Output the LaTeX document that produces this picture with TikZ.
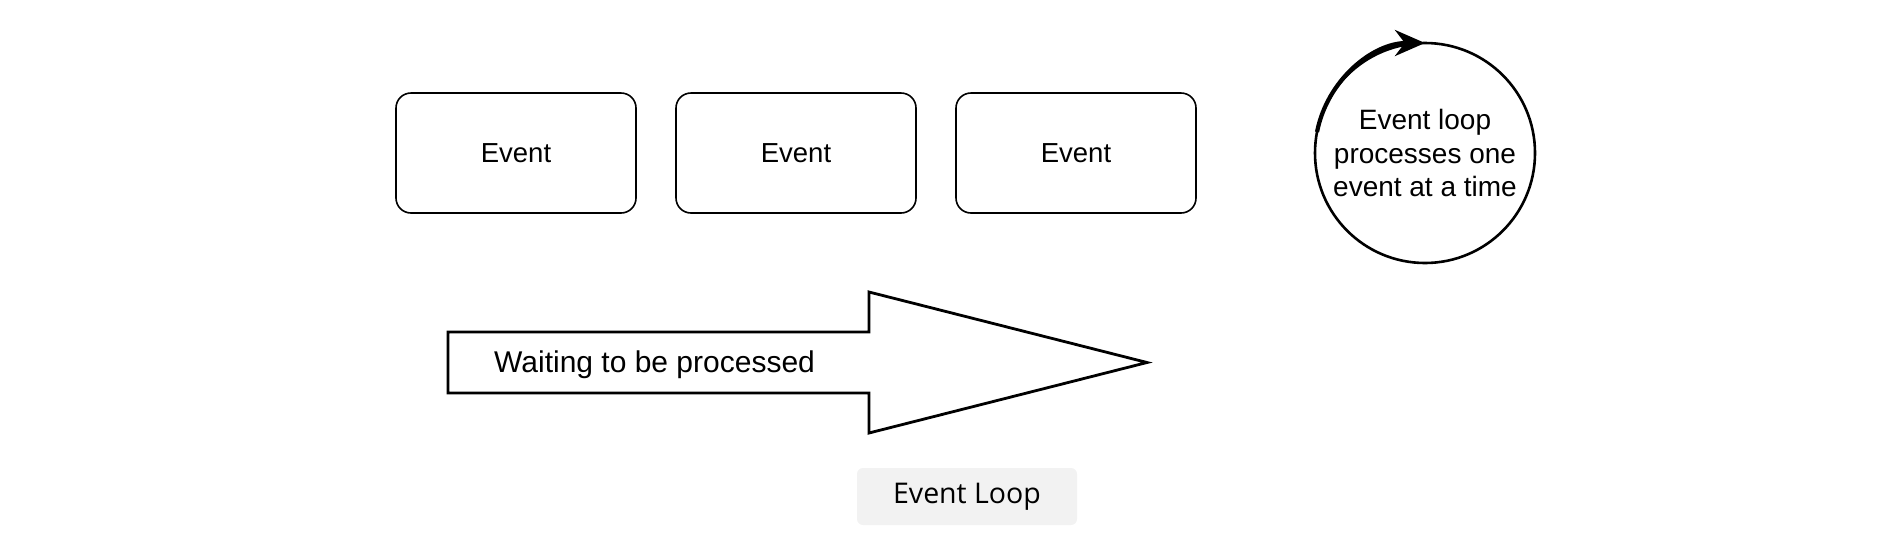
\documentclass[tikz,border=0pt]{standalone}
\usepackage{fontspec}
\setmainfont{Liberation Sans}
\newfontfamily\labelfont{Open Sans}
\usetikzlibrary{arrows.meta}
\begin{document}
\begin{tikzpicture}[x=1pt,y=-1pt,
  eventbox/.style={draw, line width=1.6pt, rounded corners=15pt, minimum width=240pt, minimum height=120pt, font=\fontsize{27.5}{32}\selectfont},
  loopcircle/.style={draw, line width=2.6pt, circle, minimum size=220pt, inner sep=0pt, outer sep=0pt, align=center, font=\fontsize{28}{33.5}\selectfont},
  bigarrow/.style={draw, line width=2.8pt, fill=white, line join=miter},
  tag/.style={fill=black!5, rounded corners=6pt, minimum width=220pt, minimum height=57pt, font=\labelfont\fontsize{28.5}{33}\selectfont, text=black}
]
\useasboundingbox (0,0) rectangle (1888,550);
\node[eventbox] (e1) at (516,153) {Event};
\node[eventbox] (e2) at (796,153) {Event};
\node[eventbox] (e3) at (1076,153) {Event};
\node[loopcircle] (loop) at (1425,153) {Event loop\\processes one\\event at a time};
\draw[line width=4.2pt, -{Stealth[length=30pt,width=26pt]}] (loop.169) arc[start angle=169, end angle=90, radius=110pt];
\draw[bigarrow] (448,332) -- (869,332) -- (869,292) -- (1147,362.5) -- (869,433) -- (869,393) -- (448,393) -- cycle;
\node[anchor=base west, font=\fontsize{30}{36}\selectfont, inner sep=0pt] (wait) at (494,372) {Waiting to be processed};
\node[tag] (tagnode) at (967,496.5) {Event Loop};
\end{tikzpicture}
\end{document}
